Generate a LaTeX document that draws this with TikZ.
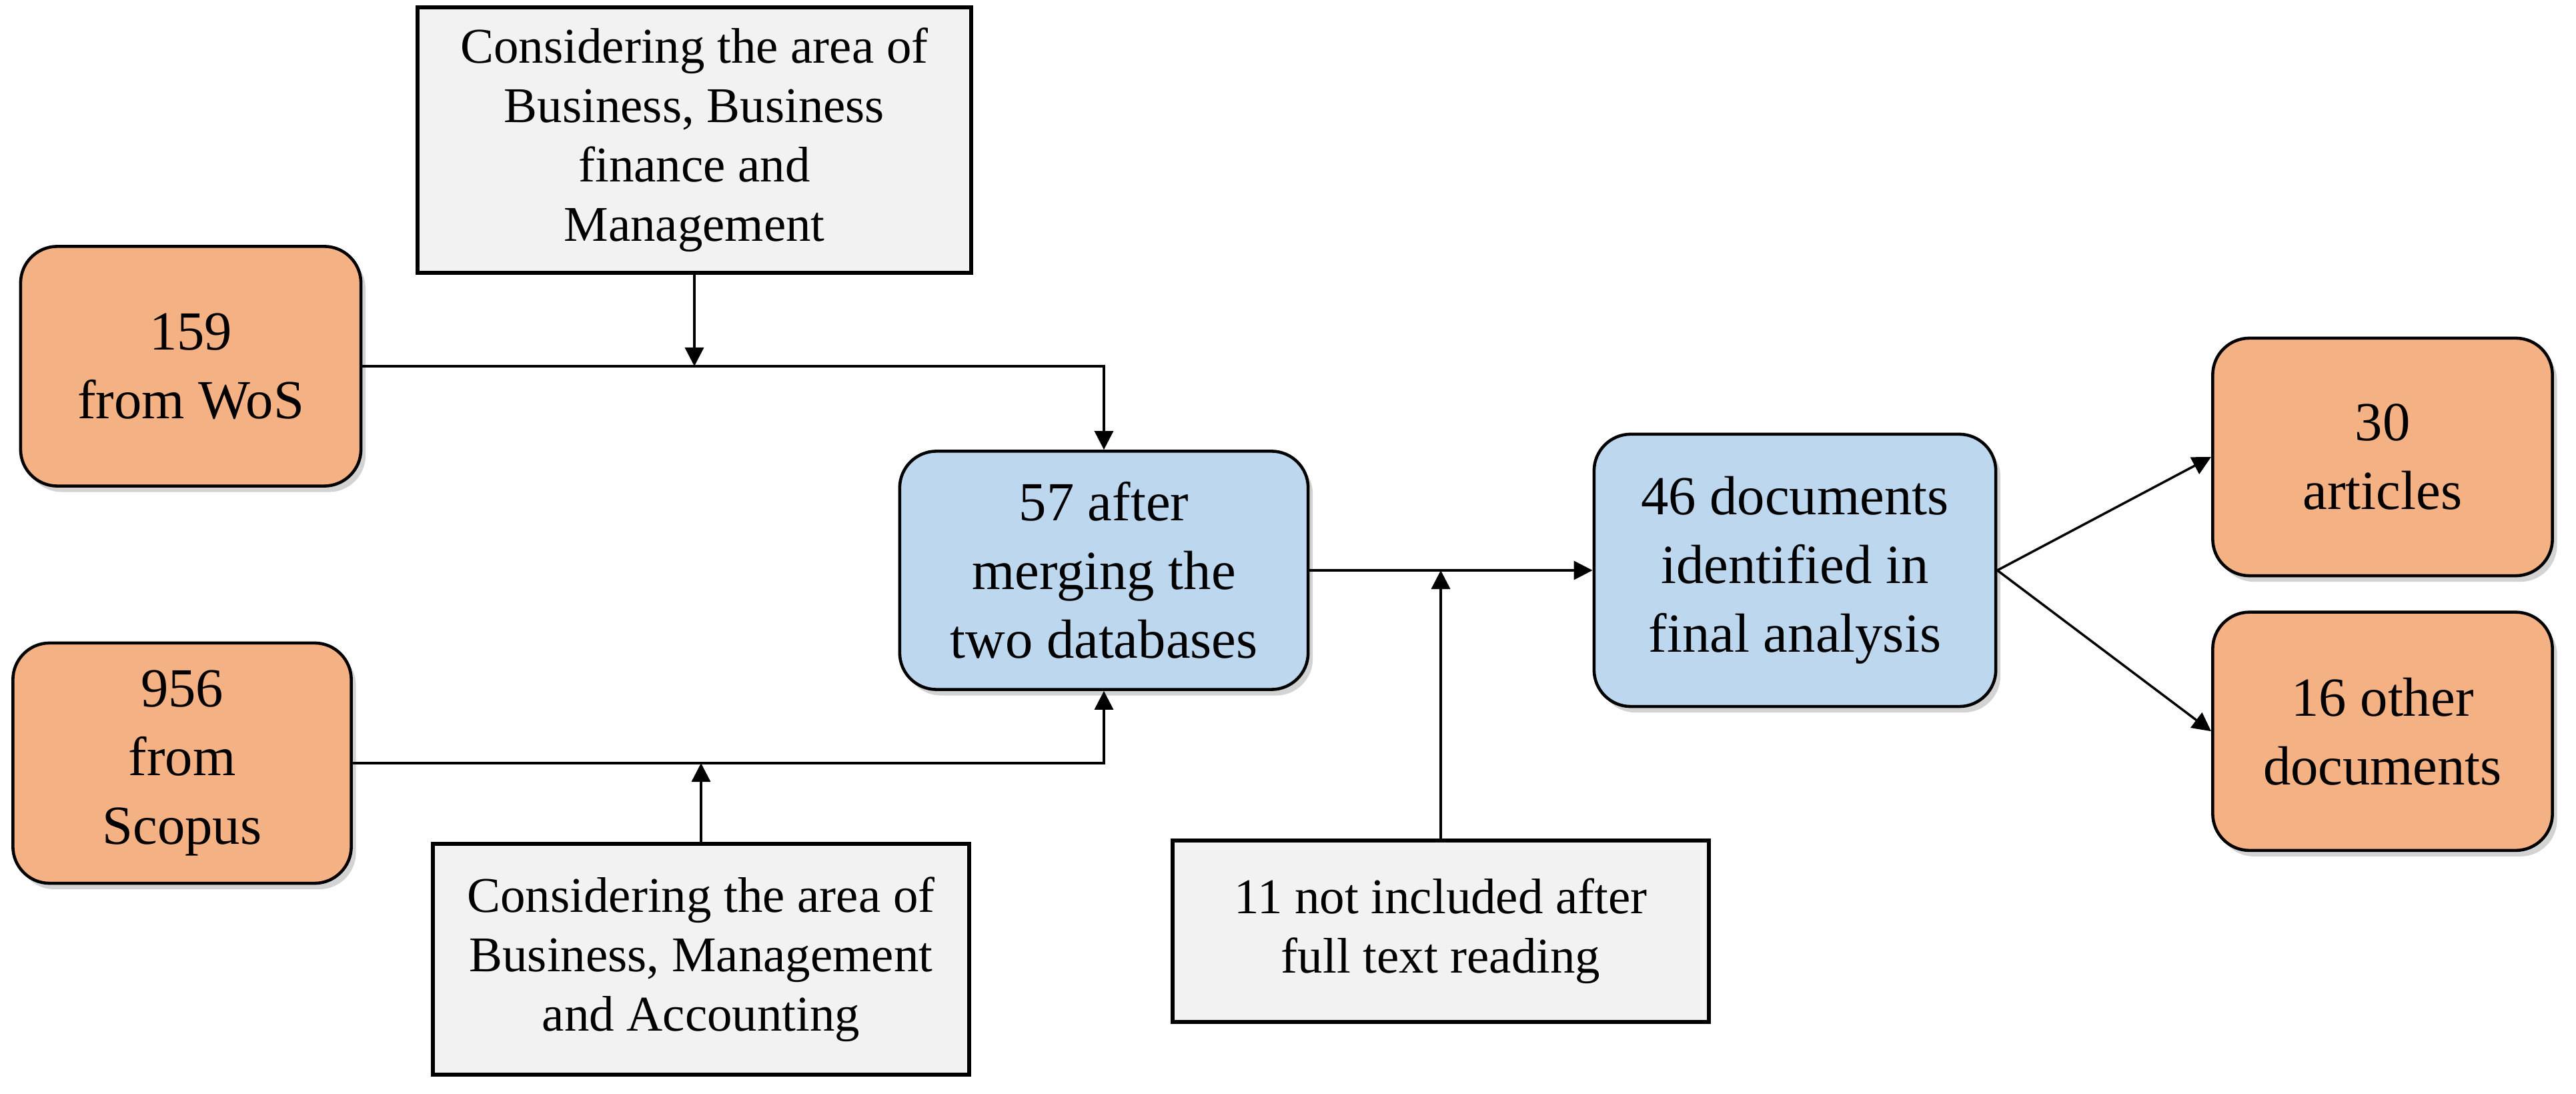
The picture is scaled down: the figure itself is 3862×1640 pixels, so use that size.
\documentclass[tikz,border=0pt]{standalone}
\usepackage{fontspec}
\setmainfont{Liberation Serif}
\usetikzlibrary{calc}
\usetikzlibrary{shadows}
\usetikzlibrary{arrows.meta}

\definecolor{boxorange}{HTML}{F4B183}
\definecolor{boxblue}{HTML}{BDD7EE}
\definecolor{boxgray}{HTML}{F2F2F2}

\begin{document}
\begin{tikzpicture}[x=0.01cm,y=-0.01cm,
	  >={Triangle[length=0.28cm,width=0.28cm]},line width=1pt,
	  big font/.style={font=\fontsize{23.5}{29.3}\selectfont},
	  small font/.style={font=\fontsize{21.3}{25.3}\selectfont},
	  round node/.style={rectangle,draw,rounded corners=0.55cm,line width=1.3pt,align=center,inner sep=0pt,big font,
	    drop shadow={shadow xshift=0.07cm,shadow yshift=-0.09cm,opacity=0.35}},
	  source node/.style={round node,fill=boxorange},
	  result node/.style={round node,fill=boxblue},
	  filter node/.style={rectangle,draw,line width=1.7pt,fill=boxgray,align=center,inner sep=0pt,small font}]

	  \useasboundingbox (0,0) rectangle (3862,1640);

	  \node[source node, minimum width=5.10cm, minimum height=3.59cm] (wos) at (286,549) {159\\from WoS};
	  \node[source node, minimum width=5.07cm, minimum height=3.60cm] (scopus) at (273,1144) {956\\from\\Scopus};
	  \node[filter node, minimum width=8.29cm, minimum height=3.98cm] (topf) at (1041,210)
	    {Considering the area of\\Business, Business\\finance and\\Management};
	  \node[filter node, minimum width=8.04cm, minimum height=3.45cm] (botf) at (1051,1438)
	    {Considering the area of\\Business, Management\\and Accounting};
	  \node[result node, minimum width=6.12cm, minimum height=3.57cm] (merge) at (1655,855) {57 after\\merging the\\two databases};
	  \node[filter node, minimum width=8.03cm, minimum height=2.72cm] (full) at (2160,1396) {11 not included after\\full text reading};
	  \node[result node, minimum width=6.02cm, minimum height=4.08cm] (final) at (2691,855) {46 documents\\identified in\\final analysis};
	  \node[source node, minimum width=5.09cm, minimum height=3.56cm] (art) at (3572,685) {30\\articles};
	  \node[source node, minimum width=5.09cm, minimum height=3.57cm, anchor=north] (oth) at ($ (art.south) + (0,50) $) {16 other\\documents};

	  \draw[->] (wos.east) -| (merge.north);
	  \draw[->] (scopus.east) -| (merge.south);
	  \path[->]
	    (topf.south)	edge	(topf.south |- wos.east)
	    (botf.north)	edge	(botf.north |- scopus.east)
	    (merge.east)	edge	(final.west)
	    (full.north)	edge	(full.north |- merge.east)
	    (final.east)	edge	(art.west)
	    (final.east)	edge	(oth.west);
	\end{tikzpicture}
\end{document}
